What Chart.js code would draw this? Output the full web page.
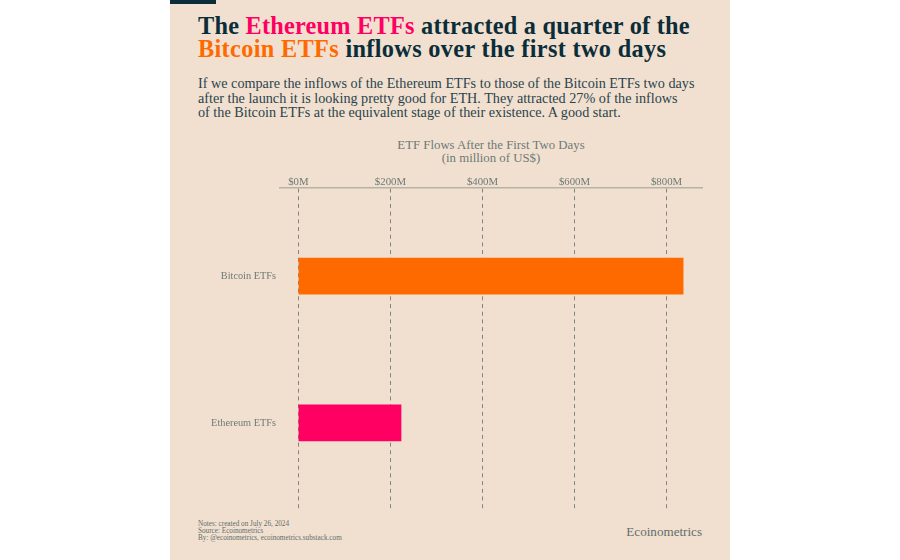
<!DOCTYPE html>
<html>
<head>
<meta charset="utf-8">
<title>ETF Flows After the First Two Days</title>
<script src="https://cdn.jsdelivr.net/npm/chart.js@4"></script>
<style>
  html, body { margin: 0; background: #fff; }
  #stage { position: relative; width: 900px; height: 560px; overflow: hidden; font-family: "Liberation Serif", serif; }
  #panel { position: absolute; left: 170px; top: 0; width: 560px; height: 560px; background: #f1e0cf; }
  #tab { position: absolute; left: 170px; top: 0; width: 46px; height: 4px; background: #0b2d3a; }
  #chart { position: absolute; left: 0; top: 0; }
  .t { position: absolute; white-space: nowrap; }
  .head { left: 198px; font-size: 24.3px; line-height: 26px; font-weight: bold; color: #0b2d3a; letter-spacing: .23px; }
  .sub { left: 198px; font-size: 14.2px; line-height: 15px; color: #2b434c; }
  .cap { left: 280px; width: 422px; text-align: center; font-size: 12.8px; line-height: 13px; color: #6e7a78; }
  .note { left: 198px; font-size: 7.2px; line-height: 7.4px; color: #5f6d6d; }
  .pink { color: #ff0062; }
  .orange { color: #ff6a00; }
</style>
</head>
<body>
<div id="stage">
  <div id="panel"></div>
  <div id="tab"></div>
  <div class="t head" style="top:13px">The <span class="pink">Ethereum ETFs</span> attracted a quarter of the</div>
  <div class="t head" style="top:36px;letter-spacing:.33px"><span class="orange">Bitcoin ETFs</span> inflows over the first two days</div>
  <div class="t sub" style="top:76px">If we compare the inflows of the Ethereum ETFs to those of the Bitcoin ETFs two days</div>
  <div class="t sub" style="top:91px">after the launch it is looking pretty good for ETH. They attracted 27% of the inflows</div>
  <div class="t sub" style="top:105px">of the Bitcoin ETFs at the equivalent stage of their existence. A good start.</div>
  <div class="t cap" style="top:139px">ETF Flows After the First Two Days</div>
  <div class="t cap" style="top:152px">(in million of US$)</div>
  <div class="t note" style="top:520.5px">Notes: created on July 26, 2024</div>
  <div class="t note" style="top:527.5px">Source: Ecoinometrics</div>
  <div class="t note" style="top:534.5px">By: @ecoinometrics, ecoinometrics.substack.com</div>
  <div class="t" style="right:198px;top:524px;font-size:13.1px;color:#5f6d6d">Ecoinometrics</div>
  <canvas id="chart" width="900" height="560"></canvas>
</div>
<script>
const categories = ['Bitcoin ETFs', 'Ethereum ETFs'];
const flows = [836, 223];
const barColors = ['#ff6a00', '#ff0062'];
const xTicks = [0, 200, 400, 600, 800];

new Chart(document.getElementById('chart'), {
  type: 'bar',
  data: {
    datasets: [{
      data: flows.map((v, i) => ({ x: v, y: i })),
      backgroundColor: barColors,
      borderWidth: 0,
      barThickness: 36
    }]
  },
  options: {
    indexAxis: 'y',
    responsive: false,
    animation: false,
    layout: { padding: { left: 200, top: 160, right: 198, bottom: 49 } },
    plugins: { legend: { display: false }, tooltip: { enabled: false } },
    scales: {
      x: {
        type: 'linear',
        position: 'top',
        min: -40,
        max: 877,
        afterBuildTicks: s => { s.ticks = xTicks.map(value => ({ value })); },
        afterFit: s => { s.height = 28; },
        ticks: {
          padding: -1,
          maxRotation: 0,
          autoSkip: false,
          color: '#6e7a78',
          font: { family: '"Liberation Serif", serif', size: 10.8 },
          callback: v => '$' + v + 'M'
        },
        // border.dash is what dashes the gridlines, the axis line stays solid
        border: { display: true, color: '#b5b3a5', width: 1.5, dash: [4, 3.7] },
        grid: { color: '#7d8683', lineWidth: 1, drawTicks: false, tickLength: 0 }
      },
      y: {
        type: 'linear',
        reverse: true,
        offset: false,
        min: -0.6,
        max: 1.6,
        afterBuildTicks: s => { s.ticks = categories.map((c, i) => ({ value: i })); },
        afterFit: s => { s.width = 80; },
        ticks: {
          padding: 4,
          color: '#6e7a78',
          font: { family: '"Liberation Serif", serif', size: 10.3 },
          callback: v => categories[v]
        },
        border: { display: false },
        grid: { display: false, drawTicks: false, tickLength: 0, offset: false }
      }
    }
  }
});
</script>
</body>
</html>
